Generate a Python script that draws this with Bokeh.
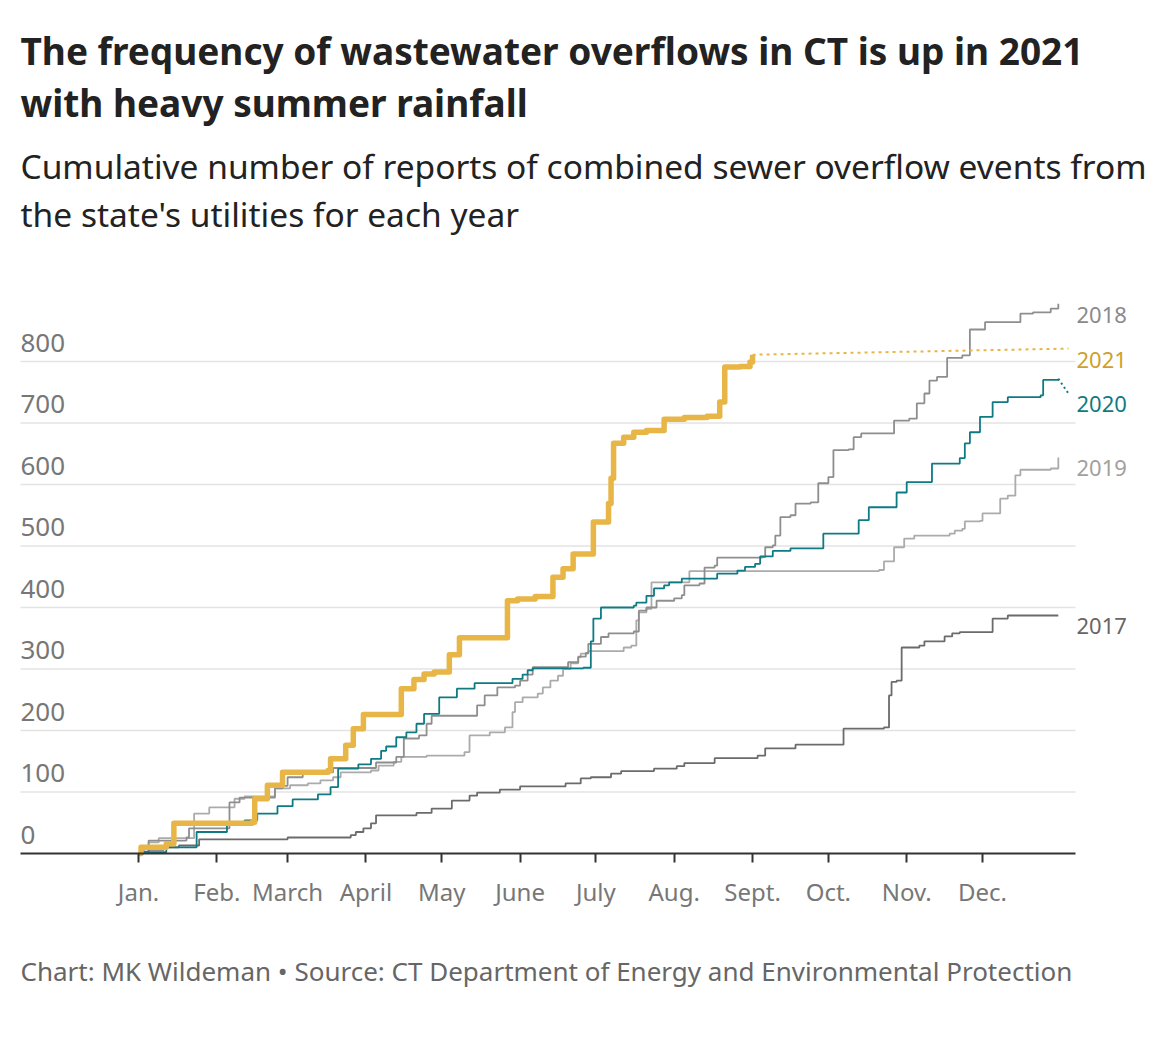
from bokeh.plotting import figure
from bokeh.models import FixedTicker, Range1d
from bokeh.embed import file_html
from bokeh.resources import INLINE
from bokeh.core.properties import value

# ---------------- data (day of year, cumulative reports) ----------------
days_2017 = [0, 1, 4, 10, 16, 24, 59, 84, 86, 89, 92, 94, 110, 116, 124, 131, 134, 143, 151, 169,
             175, 179, 187, 191, 204, 213, 216, 228, 245, 248, 260, 279, 295, 297, 298, 300, 302, 309, 311, 319,
             322, 325, 338, 344, 364]
vals_2017 = [0, 3, 6, 10, 13, 23, 26, 30, 35, 41, 49, 62, 66, 73, 86, 94, 99, 104, 109, 114,
             122, 124, 130, 134, 138, 142, 147, 155, 159, 171, 177, 203, 205, 257, 279, 281, 335, 338, 345, 353,
             358, 360, 382, 387, 387]

days_2018 = [0, 2, 4, 19, 20, 36, 40, 54, 57, 59, 65, 77, 94, 102, 105, 111, 114, 116, 134, 137,
             142, 149, 151, 154, 156, 170, 174, 177, 178, 183, 186, 196, 198, 201, 205, 212, 215, 216, 222, 224,
             228, 229, 247, 248, 251, 252, 254, 258, 260, 266, 269, 273, 275, 281, 283, 286, 299, 305, 308, 311,
             313, 316, 320, 326, 329, 335, 349, 354, 361, 364]
vals_2018 = [0, 10, 21, 26, 41, 83, 91, 106, 110, 124, 132, 139, 148, 157, 187, 192, 211, 224, 241, 257,
             270, 273, 281, 291, 303, 311, 320, 326, 341, 352, 358, 361, 395, 400, 411, 415, 420, 436, 439, 465,
             468, 481, 482, 498, 501, 517, 547, 550, 569, 571, 602, 612, 656, 657, 677, 683, 704, 707, 732, 748,
             769, 775, 806, 810, 852, 864, 878, 880, 886, 894]

days_2019 = [0, 2, 4, 8, 22, 28, 38, 42, 54, 60, 67, 72, 77, 80, 92, 95, 101, 104, 114, 129,
             131, 139, 145, 148, 149, 152, 158, 160, 163, 166, 168, 171, 174, 175, 178, 192, 195, 197, 198, 201,
             203, 218, 293, 295, 299, 303, 307, 321, 323, 326, 327, 333, 334, 341, 344, 347, 349, 361, 364]
vals_2019 = [0, 10, 18, 25, 65, 75, 89, 93, 106, 111, 114, 119, 124, 132, 135, 143, 149, 157, 159, 165,
             192, 197, 205, 230, 246, 254, 260, 270, 281, 289, 300, 309, 319, 325, 329, 335, 338, 379, 392, 398,
             441, 459, 461, 475, 498, 512, 517, 520, 525, 528, 540, 541, 553, 577, 582, 615, 624, 626, 644]

days_2020 = [0, 1, 11, 23, 35, 42, 47, 55, 61, 71, 76, 79, 87, 92, 96, 98, 102, 106, 110, 113,
             119, 126, 133, 148, 152, 154, 156, 176, 179, 180, 183, 196, 197, 201, 204, 208, 210, 215, 229, 237,
             240, 244, 246, 251, 258, 271, 285, 289, 300, 304, 314, 325, 327, 329, 333, 338, 344, 357, 358, 364]
vals_2020 = [0, 2, 10, 35, 49, 54, 65, 77, 88, 96, 108, 138, 145, 154, 167, 174, 189, 197, 211, 227,
             254, 268, 277, 284, 291, 298, 301, 302, 345, 382, 400, 403, 408, 419, 431, 436, 441, 447, 455, 460,
             466, 471, 483, 492, 496, 520, 542, 563, 587, 604, 634, 643, 667, 685, 710, 734, 742, 745, 770, 772]
proj_days_2020 = [364, 368]
proj_vals_2020 = [772, 748]

days_2021 = [0, 1, 11, 14, 45, 46, 51, 57, 75, 76, 82, 85, 89, 104, 109, 113, 117, 123, 127, 146,
             150, 157, 164, 168, 172, 180, 186, 187, 188, 192, 196, 201, 208, 216, 225, 230, 232, 238, 242, 243]
vals_2021 = [0, 10, 16, 49, 51, 89, 111, 132, 135, 154, 176, 203, 226, 268, 283, 292, 295, 323, 351, 411,
             414, 418, 449, 463, 487, 539, 569, 610, 667, 677, 685, 688, 706, 709, 711, 734, 791, 792, 799, 811]
proj_days_2021 = [243, 368]
proj_vals_2021 = [811, 821]

month_days = [0, 31, 59, 90, 120, 151, 181, 212, 243, 273, 304, 334]
month_labels = ["Jan.", "Feb.", "March", "April", "May", "June", "July", "Aug.", "Sept.", "Oct.", "Nov.", "Dec."]
y_ticks = [0, 100, 200, 300, 400, 500, 600, 700, 800]

title_lines = ["The frequency of wastewater overflows in CT is up in 2021", "with heavy summer rainfall"]
subtitle_lines = ["Cumulative number of reports of combined sewer overflow events from",
                  "the state's utilities for each year"]
footer = "Chart: MK Wildeman \u2022 Source: CT Department of Energy and Environmental Protection"

# ---------------- layout helpers (pixel positions -> data units) ----------------
FONT = "Noto Sans"
C2017, C2018, C2019 = "#6b6b6b", "#8e8e8e", "#ababab"
C2020, C2021 = "#0e7b84", "#e8b646"

W, H = 1158, 1000
PXD = 2.527      # pixels per day
PXU = 0.615      # pixels per report
X0_PX, Y0_PX = 138, 853   # pixel of (day 0, value 0)

def xd(px):
    return (px - X0_PX) / PXD

def yd(py):
    return (Y0_PX - py) / PXU

p = figure(frame_width=W, frame_height=H, output_backend="svg", toolbar_location=None,
           x_range=Range1d(xd(0), xd(W)), y_range=Range1d(yd(H), yd(0)), min_border=0)
p.outline_line_color = None
p.background_fill_color = "white"
p.border_fill_color = "white"
p.grid.visible = False
p.yaxis.visible = False

# grid lines
p.segment(x0=xd(20), x1=xd(1075), y0=y_ticks[1:], y1=y_ticks[1:], line_color="#e3e3e3", line_width=1.5)

# x axis sitting on value 0 inside the frame
xa = p.xaxis[0]
xa.fixed_location = 0
xa.bounds = (xd(20), xd(1075))
xa.ticker = FixedTicker(ticks=month_days)
xa.major_label_overrides = {d: l for d, l in zip(month_days, month_labels)}
xa.minor_tick_line_color = None
xa.major_tick_in = 0
xa.major_tick_out = 9
xa.major_tick_line_color = "#333333"
xa.major_tick_line_width = 2
xa.axis_line_color = "#333333"
xa.axis_line_width = 2
xa.major_label_text_font = FONT
xa.major_label_text_font_size = "24px"
xa.major_label_text_color = "#777777"
xa.major_label_standoff = 12

# y tick labels above grid lines
p.text(x=[xd(20)] * len(y_ticks), y=y_ticks, text=[str(t) for t in y_ticks],
       text_font=value(FONT), text_font_size="26px", text_color="#777777",
       text_align="left", text_baseline="alphabetic", y_offset=-19)

# series
p.step(days_2017, vals_2017, mode="after", line_color=C2017, line_width=1.8)
p.step(days_2019, vals_2019, mode="after", line_color=C2019, line_width=1.8)
p.step(days_2018, vals_2018, mode="after", line_color=C2018, line_width=1.8)
p.step(days_2020, vals_2020, mode="after", line_color=C2020, line_width=1.8)
p.line(proj_days_2020, proj_vals_2020, line_color=C2020, line_width=2, line_dash="2 3")
p.line(proj_days_2021, proj_vals_2021, line_color=C2021, line_width=2, line_dash="3 4")
p.step(days_2021, vals_2021, mode="after", line_color=C2021, line_width=5.5, line_join="round")

# end labels
lab_text = ["2018", "2021", "2020", "2019", "2017"]
lab_end = [vals_2018[-1], proj_vals_2021[-1], proj_vals_2020[-1], vals_2019[-1], vals_2017[-1]]
lab_color = ["#8a8a8a", "#cf9f2c", C2020, "#a0a0a0", "#666666"]
p.text(x=[xd(1076)] * len(lab_text), y=lab_end, text=lab_text, text_color=lab_color,
       text_font=value(FONT), text_font_size="22px", text_baseline="middle", text_align="left",
       y_offset=11)

# titles, subtitle, footer
p.text(x=[xd(20)] * 2, y=[yd(50), yd(102)], text=title_lines, text_font=value(FONT),
       text_font_size="37px", text_font_style="bold", text_color="#222222", text_baseline="alphabetic")
p.text(x=[xd(20)] * 2, y=[yd(165), yd(213)], text=subtitle_lines, text_font=value(FONT),
       text_font_size="33.5px", text_color="#222222", text_baseline="alphabetic")
p.text(x=[xd(20)], y=[yd(970)], text=[footer], text_font=value(FONT),
       text_font_size="26px", text_color="#666666", text_baseline="alphabetic")

open("out.html", "w").write(file_html(p, INLINE))
